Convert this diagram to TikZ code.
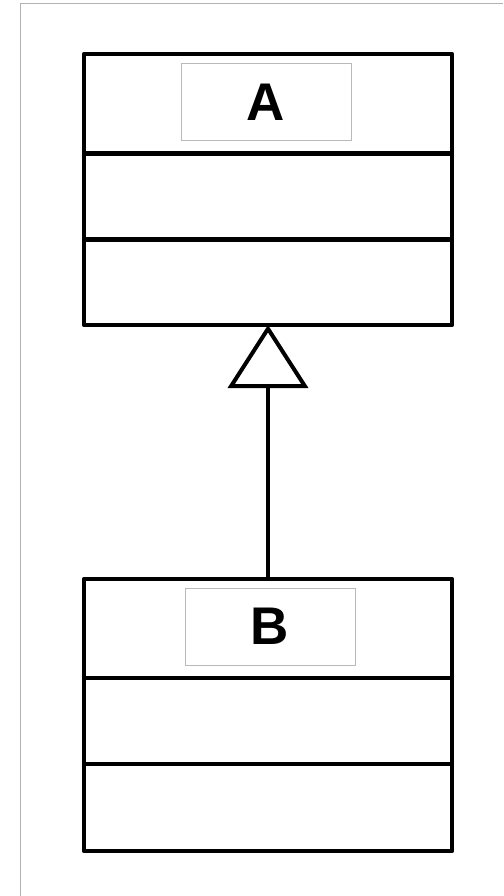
\documentclass[tikz,border=0pt]{standalone}
\usepackage{fontspec}
\newfontfamily\umlfont{Liberation Sans}
\usetikzlibrary{arrows.meta, positioning}

\begin{document}
\begin{tikzpicture}[x=1pt, y=-1pt,
        classbox/.style={draw, line width=4.5pt, line join=round, minimum width=368pt, inner sep=0pt, outer sep=0pt},
        namebox/.style={draw=gray!55, line width=1pt, minimum width=170pt, minimum height=77pt, inner sep=0pt, outer sep=0pt,
            font=\umlfont\bfseries\fontsize{53}{53}\selectfont},
        inherit/.style={line width=3.5pt, -{Triangle[open, length=63pt, width=80pt, line width=4pt]}}]
        \useasboundingbox (0,0) rectangle (503,896);
        \draw[gray!60, line width=1pt] (503,4) -- (20,4) -- (20,896);

        \node[classbox, minimum height=271pt] (A) at (268,189.5) {};
        \node[classbox, minimum height=272pt] (B) at (268,715) {};
        \foreach \cls/\da/\db in {A/99.5/185.5, B/99/185} {
            \draw[line width=4.5pt] ([yshift=-\da pt]\cls.north west) -- ([yshift=-\da pt]\cls.north east);
            \draw[line width=4.5pt] ([yshift=-\db pt]\cls.north west) -- ([yshift=-\db pt]\cls.north east);
        }
        \node[namebox, below=10pt of A.north, xshift=-2pt] (nameA) {A};
        \node[namebox, below=9pt of B.north, xshift=2pt] (nameB) {B};

        \draw[inherit] (B.north) -- (A.south);
    \end{tikzpicture}
\end{document}
